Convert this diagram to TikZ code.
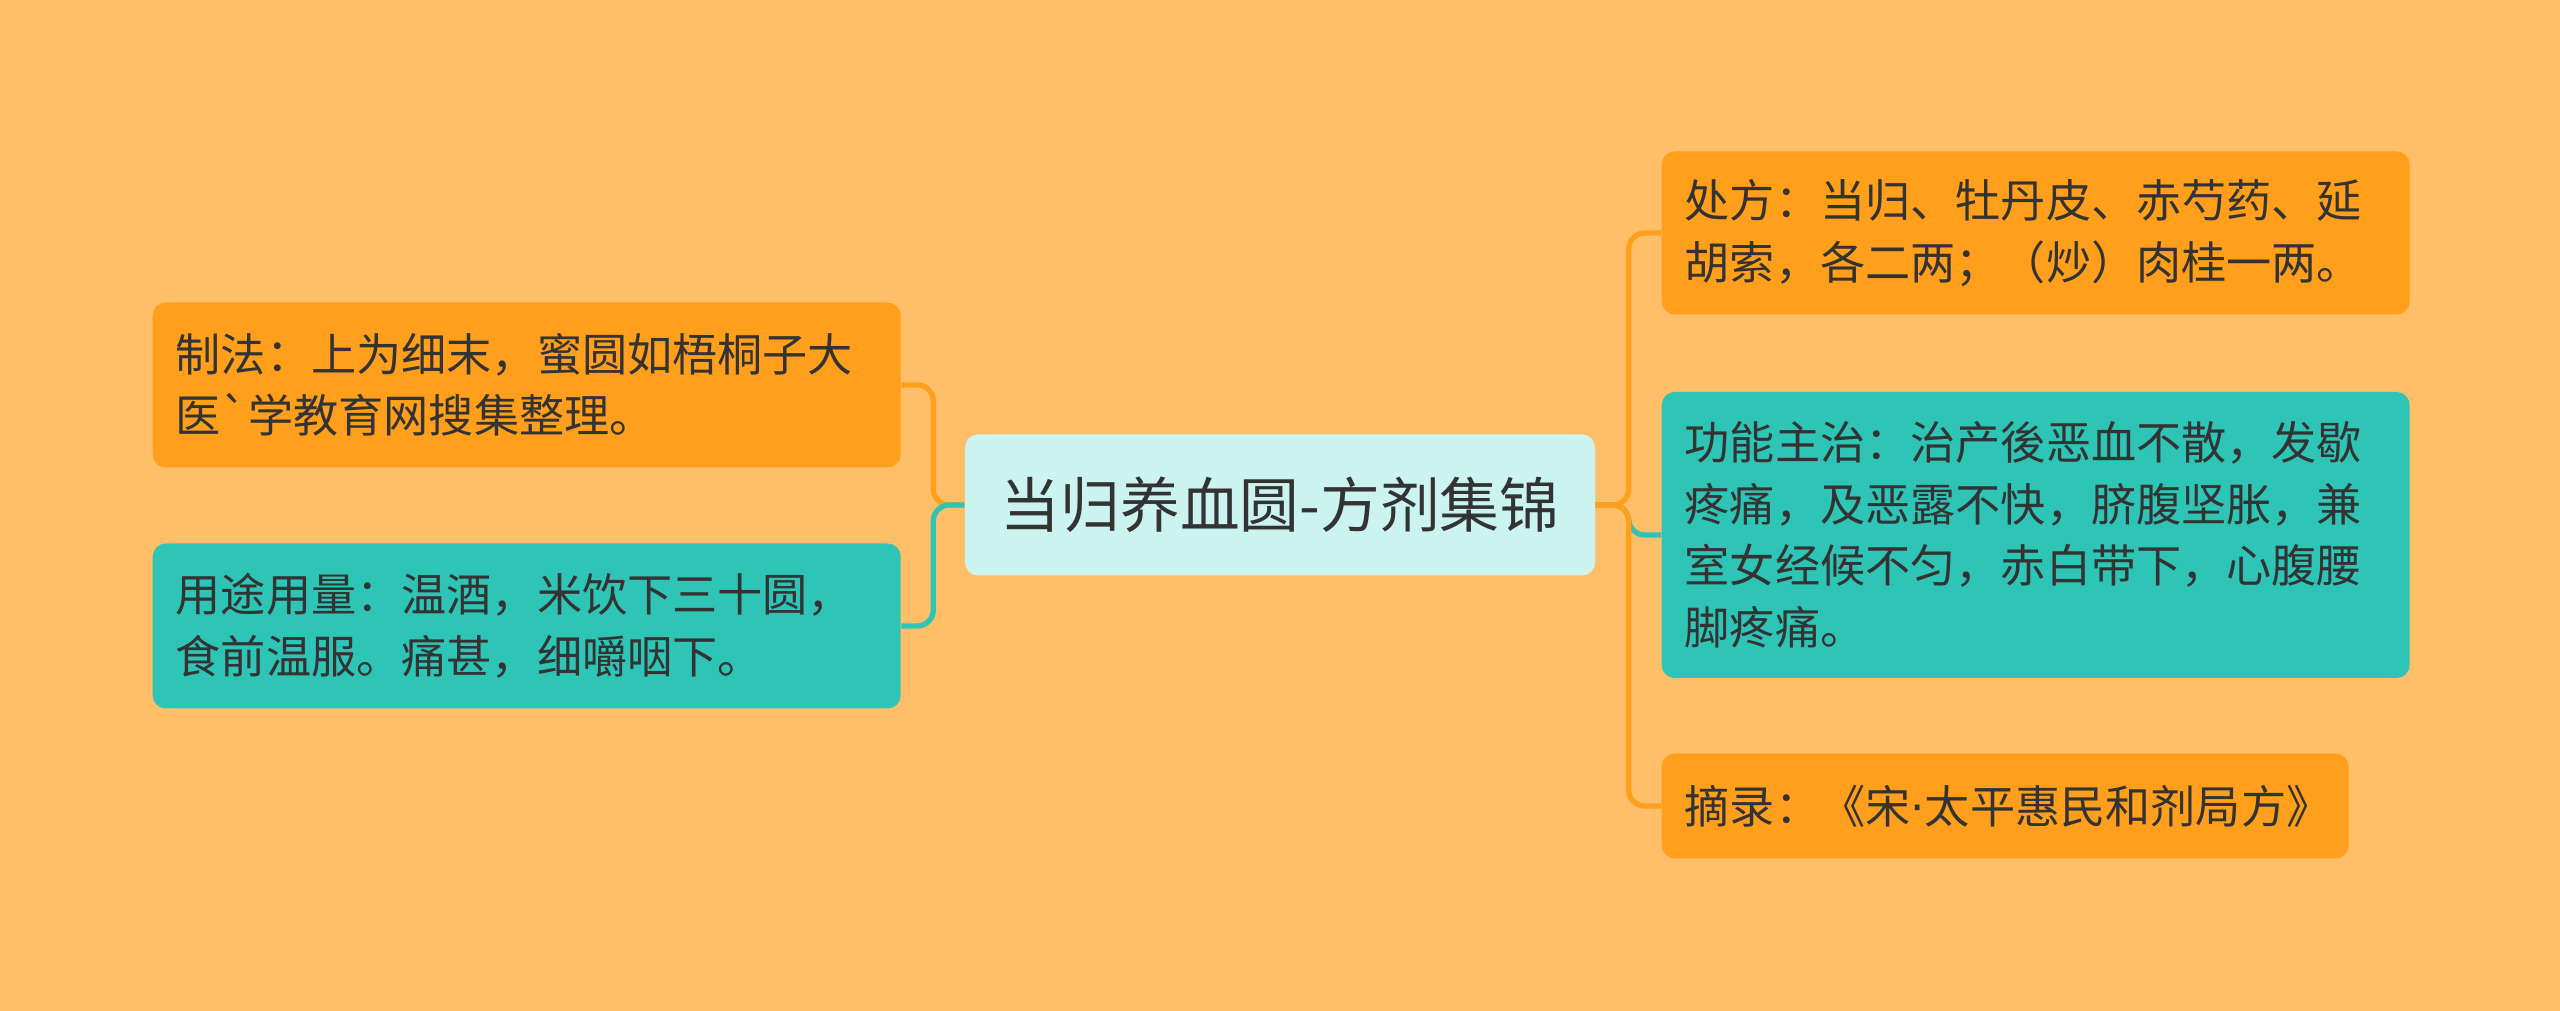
\documentclass[tikz,border=0pt]{standalone}
\usepackage{fontspec}
\setmainfont{Noto Sans CJK SC}
\newfontfamily\dotfont{DejaVu Sans}
\newcommand\narrowdot{{\dotfont ·}}
\definecolor{bgorange}{HTML}{FFBF69}
\definecolor{boxorange}{HTML}{FF9F1C}
\definecolor{boxteal}{HTML}{2EC4B6}
\definecolor{lightteal}{HTML}{CBF3F0}
\definecolor{textgray}{HTML}{333333}

\begin{document}
\begin{tikzpicture}[auto,
		leaf/.style={rounded corners=0.13cm, anchor=west, inner xsep=0.23cm, inner ysep=0cm, text width=7.02cm, align=left, text=textgray, font=\fontsize{12.85pt}{17.5pt}\selectfont},
		link/.style={line width=1.5pt, rounded corners=0.16cm}]
			\fill[bgorange] (0,0) rectangle (25.6,-10.11);
			\node[fill=lightteal, rounded corners=0.13cm, minimum width=6.30cm, minimum height=1.41cm, text=textgray, font=\fontsize{17pt}{20pt}\selectfont] (title) at (12.80,-5.05) {当归养血圆-方剂集锦};
			\node[leaf, fill=boxorange, minimum height=1.65cm] (zhifa) at (1.52,-3.85) {制法：上为细末，蜜圆如梧桐子大\\医\textasciigrave 学教育网搜集整理。};
			\node[leaf, fill=boxteal, minimum height=1.65cm] (yongtu) at (1.52,-6.26) {用途用量：温酒，米饮下三十圆，\\食前温服。痛甚，细嚼咽下。};
			\node[leaf, fill=boxorange, minimum height=1.63cm] (chufang) at (16.61,-2.33) {处方：当归、牡丹皮、赤芍药、延\\胡索，各二两；（炒）肉桂一两。};
			\node[leaf, fill=boxteal, minimum height=2.86cm] (gongneng) at (16.61,-5.35) {功能主治：治产後恶血不散，发歇\\疼痛，及恶露不快，脐腹坚胀，兼\\室女经候不匀，赤白带下，心腹腰\\脚疼痛。};
			\node[leaf, fill=boxorange, minimum height=1.05cm, text width=6.41cm] (zhailu) at (16.61,-8.06) {摘录：《宋\narrowdot 太平惠民和剂局方》};
			\foreach \n/\c in {zhifa/boxorange, yongtu/boxteal}{
				\draw[link, \c] (title.west) -- ++(-0.31,0) |- (\n.east);
			}
			\foreach \n/\c in {gongneng/boxteal, chufang/boxorange, zhailu/boxorange}{
				\draw[link, \c] (title.east) -- ++(0.33,0) |- (\n.west);
			}
		\end{tikzpicture}
\end{document}
